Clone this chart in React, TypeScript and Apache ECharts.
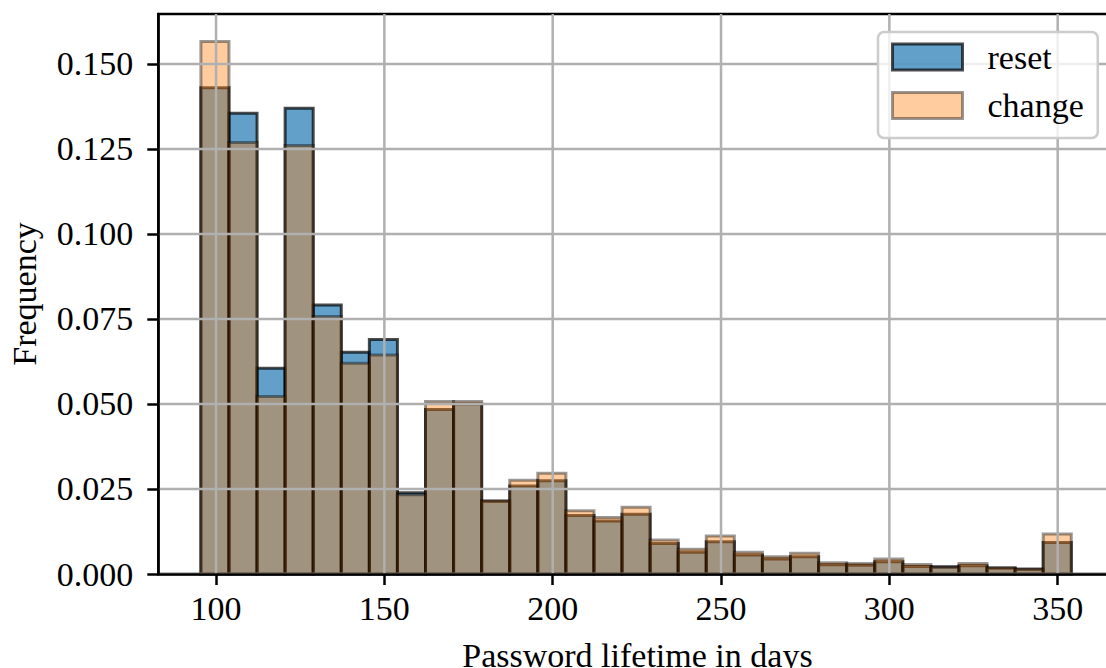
import React, { useEffect, useRef } from "react";
import * as echarts from "echarts";

// Histogram bins (days)
const binStart = 95.5;
const binWidth = 8.34;

// Relative frequency per bin
const resetFreq = [
  0.143, 0.1355, 0.0605, 0.137, 0.0791, 0.0652, 0.069, 0.0239, 0.0484, 0.05,
  0.0213, 0.0259, 0.0274, 0.0172, 0.0156, 0.0176, 0.009, 0.0064, 0.0095, 0.0056,
  0.0044, 0.0051, 0.0027, 0.0026, 0.0036, 0.0022, 0.0021, 0.0024, 0.0017, 0.0014,
  0.0093,
];
const changeFreq = [
  0.1566, 0.1269, 0.0522, 0.126, 0.0757, 0.062, 0.0644, 0.0233, 0.0507, 0.0507,
  0.0216, 0.0276, 0.0296, 0.0186, 0.0166, 0.0196, 0.01, 0.0073, 0.0112, 0.0064,
  0.0051, 0.0061, 0.0033, 0.0031, 0.0044, 0.0028, 0.002, 0.0031, 0.0019, 0.0015,
  0.0118,
];

const xTicks = [100, 150, 200, 250, 300, 350];
const yTicks = [0, 0.025, 0.05, 0.075, 0.1, 0.125, 0.15];

const X_MIN = 82.85;
const X_MAX = 367.5;
const Y_MIN = 0;
const Y_MAX = 0.1647;

const FONT = "'Liberation Serif', 'DejaVu Serif', serif";
const FS = 34;

const RESET_FILL = "rgba(31,119,180,0.7)";
const RESET_EDGE = "rgba(0,0,0,0.7)";
const CHANGE_FILL = "rgba(255,127,14,0.4)";
const CHANGE_EDGE = "rgba(0,0,0,0.4)";

function histData(values: number[]) {
  return values.map((v, i) => [binStart + i * binWidth, binStart + (i + 1) * binWidth, v]);
}

function barRenderer(fill: string, stroke: string) {
  return (params: any, api: any) => {
    const p0 = api.coord([api.value(0), api.value(2)]);
    const p1 = api.coord([api.value(1), 0]);
    return {
      type: "rect",
      shape: { x: p0[0], y: p0[1], width: p1[0] - p0[0], height: p1[1] - p0[1] },
      style: { fill, stroke, lineWidth: 3 },
    };
  };
}

export default function App() {
  const ref = useRef<HTMLDivElement>(null);

  useEffect(() => {
    if (!ref.current) return;
    const chart = echarts.init(ref.current, null, { renderer: "svg" });
    const option: any = {
      animation: false,
      backgroundColor: "#ffffff",
      grid: {
        left: 158.3,
        right: 23.4,
        top: 14,
        bottom: 94,
        containLabel: false,
        outerBoundsMode: "none",
        show: true,
        borderColor: "#000000",
        borderWidth: 2.5,
        backgroundColor: "transparent",
      },
      legend: {
        left: 878,
        top: 32,
        orient: "vertical",
        itemWidth: 70,
        itemHeight: 26,
        itemGap: 12.5,
        padding: [7, 14, 14.5, 13],
        backgroundColor: "rgba(255,255,255,0.8)",
        borderColor: "#cccccc",
        borderWidth: 2.5,
        borderRadius: 6,
        textStyle: {
          fontFamily: FONT,
          fontSize: FS,
          color: "#000000",
          lineHeight: 36,
          padding: [0, 0, 0, 20],
        },
        data: [
          {
            name: "reset",
            icon: "rect",
            itemStyle: { color: RESET_FILL, borderColor: RESET_EDGE, borderWidth: 3 },
          },
          {
            name: "change",
            icon: "rect",
            itemStyle: { color: CHANGE_FILL, borderColor: CHANGE_EDGE, borderWidth: 3 },
          },
        ],
      },
      xAxis: {
        type: "value",
        min: X_MIN,
        max: X_MAX,
        z: 10,
        name: "Password lifetime in days",
        nameLocation: "middle",
        nameGap: 64,
        nameTextStyle: { fontFamily: FONT, fontSize: FS, color: "#000000" },
        axisLine: { show: true, onZero: false, lineStyle: { color: "#000000", width: 2.5 } },
        axisTick: {
          show: true,
          inside: false,
          length: 11,
          lineStyle: { color: "#000000", width: 2.5 },
          customValues: xTicks,
        },
        axisLabel: {
          show: true,
          margin: 17,
          fontFamily: FONT,
          fontSize: FS,
          color: "#000000",
          customValues: xTicks,
          formatter: (v: number) => String(Math.round(v)),
        },
        splitLine: { show: false },
      },
      yAxis: {
        type: "value",
        min: Y_MIN,
        max: Y_MAX,
        interval: 0.025,
        z: 10,
        name: "Frequency",
        nameLocation: "middle",
        nameGap: 117,
        nameTextStyle: { fontFamily: FONT, fontSize: FS, color: "#000000" },
        axisLine: { show: true, onZero: false, lineStyle: { color: "#000000", width: 2.5 } },
        axisTick: {
          show: true,
          inside: false,
          length: 11,
          lineStyle: { color: "#000000", width: 2.5 },
          customValues: yTicks,
        },
        axisLabel: {
          show: true,
          margin: 25,
          fontFamily: FONT,
          fontSize: FS,
          color: "#000000",
          customValues: yTicks,
          formatter: (v: number) => v.toFixed(3),
        },
        splitLine: { show: false },
      },
      series: [
        {
          name: "reset",
          type: "custom",
          z: 2,
          itemStyle: { color: RESET_FILL },
          encode: { x: [0, 1], y: 2 },
          data: histData(resetFreq),
          renderItem: barRenderer(RESET_FILL, RESET_EDGE),
        },
        {
          name: "change",
          type: "custom",
          z: 2,
          itemStyle: { color: CHANGE_FILL },
          encode: { x: [0, 1], y: 2 },
          data: histData(changeFreq),
          renderItem: barRenderer(CHANGE_FILL, CHANGE_EDGE),
        },
        {
          name: "xgrid",
          type: "custom",
          z: 3,
          silent: true,
          encode: { x: 0, y: 1 },
          data: xTicks.map((t) => [t, 0]),
          renderItem: (params: any, api: any) => {
            const cs = params.coordSys;
            const x = api.coord([api.value(0), 0])[0];
            return {
              type: "line",
              shape: { x1: x, y1: cs.y, x2: x, y2: cs.y + cs.height },
              style: { stroke: "#b0b0b0", lineWidth: 2.5 },
            };
          },
        },
        {
          name: "ygrid",
          type: "custom",
          z: 3,
          silent: true,
          encode: { x: 0, y: 1 },
          data: yTicks.map((t) => [X_MIN, t]),
          renderItem: (params: any, api: any) => {
            const cs = params.coordSys;
            const y = api.coord([X_MIN, api.value(1)])[1];
            return {
              type: "line",
              shape: { x1: cs.x, y1: y, x2: cs.x + cs.width, y2: y },
              style: { stroke: "#b0b0b0", lineWidth: 2.5 },
            };
          },
        },
      ],
    };
    chart.setOption(option);
    return () => chart.dispose();
  }, []);

  return (
    <div
      style={{
        position: "fixed",
        left: 0,
        top: 0,
        width: 1106,
        height: 668,
        overflow: "hidden",
        background: "#ffffff",
      }}
    >
      <div ref={ref} style={{ width: 1140, height: 668 }} />
    </div>
  );
}
